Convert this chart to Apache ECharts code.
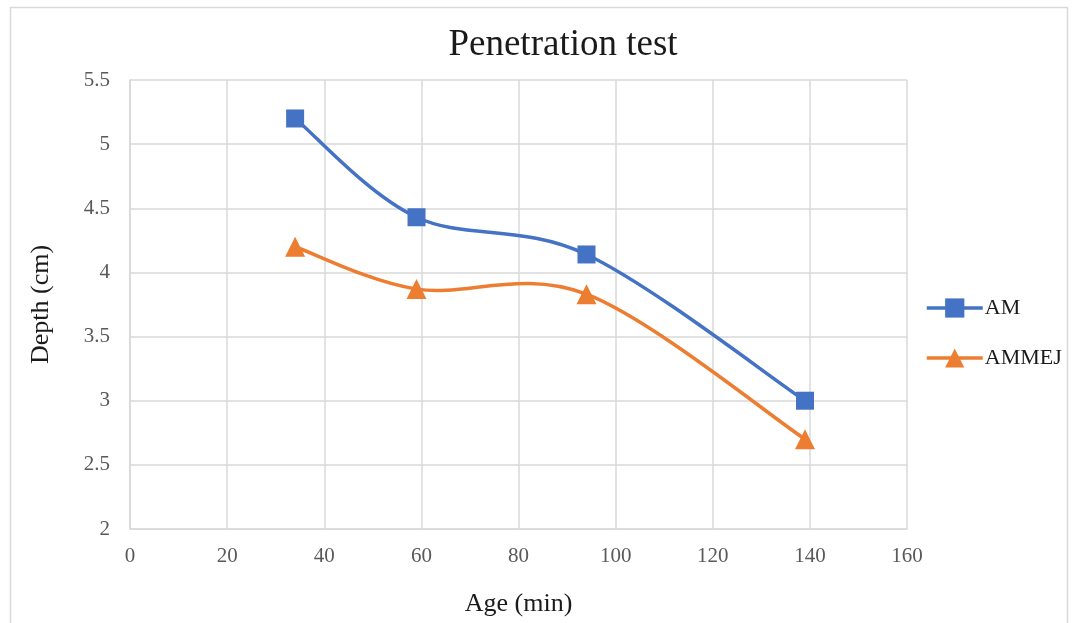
<!DOCTYPE html>
<html>
<head>
<meta charset="utf-8">
<script src="https://cdn.jsdelivr.net/npm/echarts@6/dist/echarts.min.js"></script>
<style>
html,body{margin:0;padding:0;background:#fff;}
#c{width:1074px;height:623px;}
</style>
</head>
<body>
<div id="c"></div>
<script>
const seriesNames = ['AM', 'AMMEJ'];
const seriesColors = ['#4472c4', '#ed7d31'];
const ageAM = [34, 59, 94, 139];
const depthAM = [5.2, 4.43, 4.14, 3.0];
const ageAMMEJ = [34, 59, 94, 139];
const depthAMMEJ = [4.2, 3.87, 3.83, 2.7];
const xTicks = { min: 0, max: 160, interval: 20 };
const yTicks = { min: 2, max: 5.5, interval: 0.5 };

const font = '"Liberation Serif", "Times New Roman", serif';

// Excel-like smoothed line (Catmull-Rom as cubic Bezier), drawn through the chart's own scales
function curveSeries(xs, ys, color) {
  const pts = xs.map((x, i) => [x, ys[i]]);
  return {
    type: 'custom', z: 1, clip: false,
    data: pts,
    encode: { x: 0, y: 1 },
    renderItem: function (params, api) {
      const i = params.dataIndex;
      if (i >= pts.length - 1) return null;
      const P = k => api.coord(pts[Math.max(0, Math.min(pts.length - 1, k))]);
      const p0 = P(i - 1), p1 = P(i), p2 = P(i + 1), p3 = P(i + 2);
      return {
        type: 'bezierCurve',
        shape: {
          x1: p1[0], y1: p1[1], x2: p2[0], y2: p2[1],
          cpx1: p1[0] + (p2[0] - p0[0]) / 6, cpy1: p1[1] + (p2[1] - p0[1]) / 6,
          cpx2: p2[0] - (p3[0] - p1[0]) / 6, cpy2: p2[1] - (p3[1] - p1[1]) / 6
        },
        style: { stroke: color, lineWidth: 3.5, fill: 'none', lineCap: 'round' },
        silent: true
      };
    }
  };
}

const chart = echarts.init(document.getElementById('c'), null, { renderer: 'canvas' });
chart.setOption({
  animation: false,
  backgroundColor: '#fff',
  graphic: [{
    type: 'rect', shape: { x: 10.5, y: 7.5, width: 1057, height: 630 },
    style: { fill: 'none', stroke: '#d9d9d9', lineWidth: 1.5 }, silent: true
  }],
  title: {
    text: 'Penetration test', left: 558, textAlign: 'center', top: 22,
    textStyle: { fontFamily: font, fontSize: 37, fontWeight: 'normal', color: '#1a1a1a' }
  },
  legend: {
    orient: 'vertical', left: 920, top: 292, itemGap: 28, itemWidth: 56, itemHeight: 24,
    textStyle: { fontFamily: font, fontSize: 22, color: '#1a1a1a', padding: [0, 0, 0, -3] },
    data: seriesNames.map((nm, i) => ({ name: nm, lineStyle: { color: seriesColors[i], width: 3.5, opacity: 1 } }))
  },
  grid: { left: 130, right: 167, top: 80, bottom: 94 },
  xAxis: {
    type: 'value', min: xTicks.min, max: xTicks.max, interval: xTicks.interval,
    name: 'Age (min)', nameLocation: 'middle', nameGap: 62,
    nameTextStyle: { fontFamily: font, fontSize: 26, color: '#1a1a1a' },
    axisLine: { show: true, lineStyle: { color: '#d9d9d9', width: 1.5 } },
    axisTick: { show: false },
    axisLabel: { fontFamily: font, fontSize: 21, color: '#595959', margin: 17 },
    splitLine: { show: true, lineStyle: { color: '#d9d9d9', width: 1.5 } }
  },
  yAxis: {
    type: 'value', min: yTicks.min, max: yTicks.max, interval: yTicks.interval,
    name: 'Depth (cm)', nameLocation: 'middle', nameGap: 76,
    nameTextStyle: { fontFamily: font, fontSize: 26, color: '#1a1a1a' },
    axisLine: { show: true, lineStyle: { color: '#d9d9d9', width: 1.5 } },
    axisTick: { show: false },
    axisLabel: { fontFamily: font, fontSize: 21, color: '#595959', margin: 20 },
    splitLine: { show: true, lineStyle: { color: '#d9d9d9', width: 1.5 } }
  },
  series: [
    curveSeries(ageAM, depthAM, seriesColors[0]),
    curveSeries(ageAMMEJ, depthAMMEJ, seriesColors[1]),
    {
      name: seriesNames[0], type: 'line', z: 3,
      data: ageAM.map((x, i) => [x, depthAM[i]]),
      symbol: 'rect', symbolSize: 18, showAllSymbol: true,
      lineStyle: { color: seriesColors[0], width: 0, opacity: 0 },
      itemStyle: { color: seriesColors[0] }
    },
    {
      name: seriesNames[1], type: 'line', z: 3,
      data: ageAMMEJ.map((x, i) => [x, depthAMMEJ[i]]),
      symbol: 'triangle', symbolSize: 20, showAllSymbol: true,
      lineStyle: { color: seriesColors[1], width: 0, opacity: 0 },
      itemStyle: { color: seriesColors[1] }
    }
  ]
});
</script>
</body>
</html>
